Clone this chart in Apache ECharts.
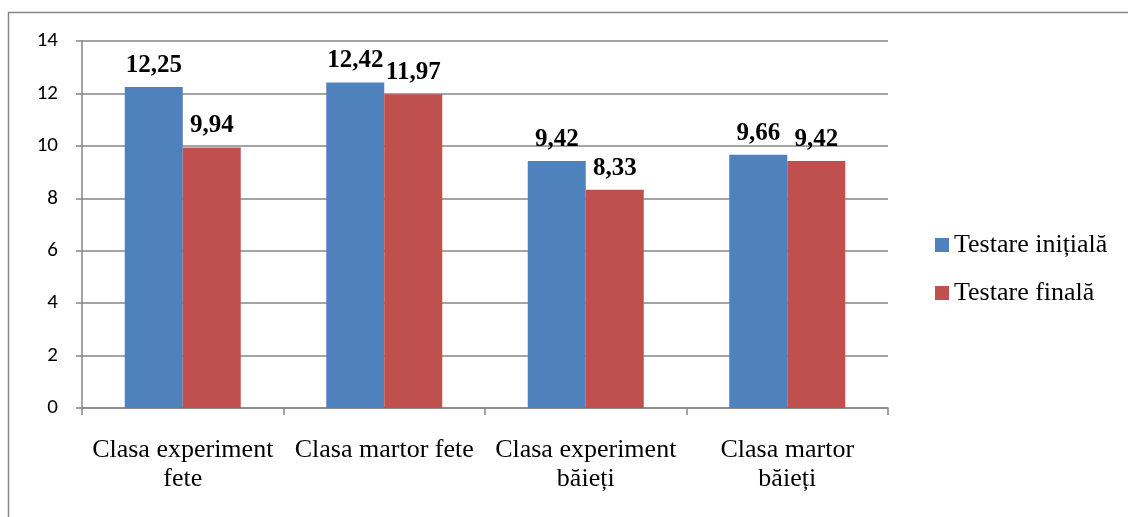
<!DOCTYPE html>
<html>
<head>
<meta charset="utf-8">
<script src="https://cdn.jsdelivr.net/npm/echarts@6/dist/echarts.min.js"></script>
<style>
  html, body { margin: 0; padding: 0; background: #fff; }
  #chart { width: 1128px; height: 517px; }
</style>
</head>
<body>
<div id="chart"></div>
<script>
// date
const categories = ['Clasa experiment\nfete', 'Clasa martor fete', 'Clasa experiment\nbăieți', 'Clasa martor\nbăieți']
const seriesNames = ['Testare inițială', 'Testare finală']
const initialValues = [12.25, 12.42, 9.42, 9.66]
const finalValues = [9.94, 11.97, 8.33, 9.42]
const colors = ['#4F81BD', '#C0504D']

const chart = echarts.init(document.getElementById('chart'))

const labelFmt = p => p.value.toFixed(2).replace('.', ',')

const barLabel = {
  show: true,
  position: 'top',
  distance: 9,
  formatter: labelFmt,
  fontFamily: 'Liberation Serif',
  fontWeight: 'bold',
  fontSize: 25,
  color: '#000'
}

const option = {
  animation: false,
  graphic: [
    {
      type: 'rect',
      shape: { x: 8.5, y: 12.5, width: 1200, height: 600 },
      style: { fill: 'none', stroke: '#868686', lineWidth: 1.5 },
      silent: true
    }
  ],
  legend: {
    orient: 'vertical',
    left: 930,
    top: 227,
    itemWidth: 14,
    itemHeight: 14,
    itemGap: 22,
    icon: 'rect',
    textStyle: {
      fontFamily: 'Liberation Serif',
      fontSize: 26,
      color: '#000'
    },
    data: seriesNames
  },
  grid: {
    left: 82,
    top: 41,
    width: 806,
    height: 367
  },
  xAxis: {
    type: 'category',
    data: categories,
    axisLine: { lineStyle: { color: '#868686', width: 1.5 } },
    axisTick: { show: true, length: 7, lineStyle: { color: '#868686', width: 1.5 } },
    axisLabel: {
      margin: 28,
      fontFamily: 'Liberation Serif',
      fontSize: 26,
      color: '#000',
      lineHeight: 29,
      interval: 0
    },
    splitLine: { show: false }
  },
  yAxis: {
    type: 'value',
    min: 0,
    max: 14,
    interval: 2,
    axisLine: { show: true, lineStyle: { color: '#868686', width: 1.5 } },
    axisTick: { show: true, length: 6, lineStyle: { color: '#868686', width: 1.5 } },
    axisLabel: {
      margin: 24,
      fontFamily: 'Carlito, Liberation Sans',
      fontSize: 21,
      color: '#000'
    },
    splitLine: { show: true, lineStyle: { color: '#868686', width: 1.5 } }
  },
  series: [
    {
      name: seriesNames[0],
      type: 'bar',
      data: initialValues,
      barWidth: 58,
      barGap: '0%',
      itemStyle: { color: colors[0] },
      label: barLabel
    },
    {
      name: seriesNames[1],
      type: 'bar',
      data: finalValues,
      barWidth: 58,
      barGap: '0%',
      itemStyle: { color: colors[1] },
      label: barLabel
    }
  ]
}

chart.setOption(option)
</script>
</body>
</html>
